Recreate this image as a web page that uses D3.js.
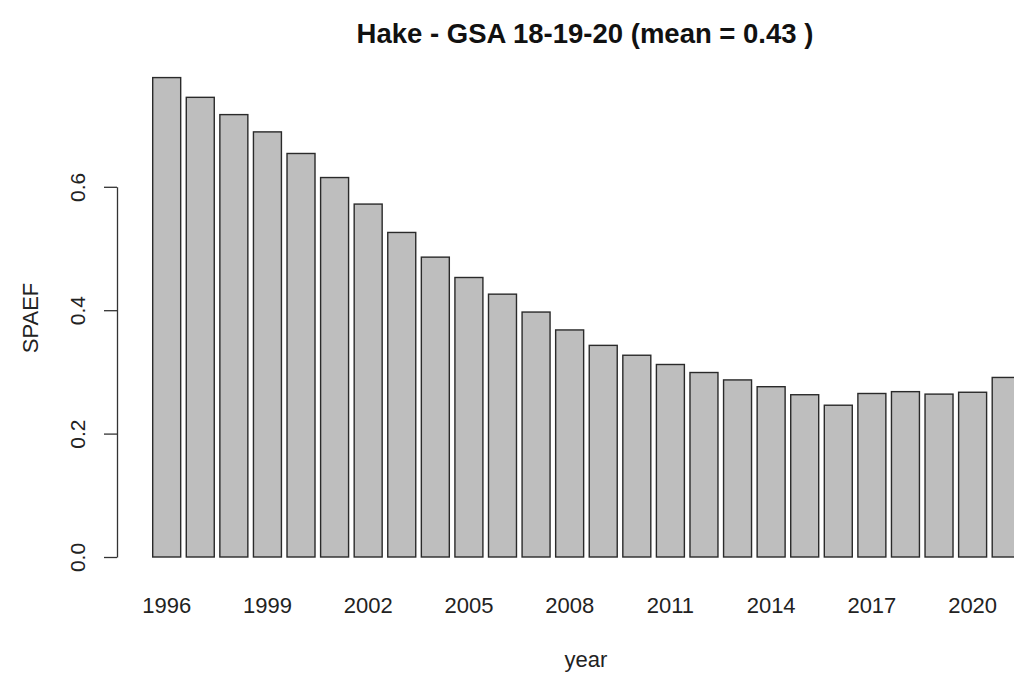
<!DOCTYPE html>
<html>
<head>
<meta charset="utf-8">
<script src="https://cdn.jsdelivr.net/npm/d3@7"></script>
<style>
  html, body { margin: 0; padding: 0; background: #fff; }
  svg { display: block; font-family: "Liberation Sans", Arial, sans-serif; }
</style>
</head>
<body>
<svg id="chart" width="1014" height="675"></svg>
<script>
const years = ["1996","1997","1998","1999","2000","2001","2002","2003","2004","2005","2006","2007","2008","2009","2010","2011","2012","2013","2014","2015","2016","2017","2018","2019","2020","2021"];
const spaef = [0.777,0.745,0.717,0.689,0.654,0.615,0.572,0.526,0.486,0.453,0.426,0.397,0.368,0.343,0.327,0.312,0.299,0.287,0.276,0.263,0.246,0.265,0.268,0.264,0.267,0.291];
const xTickLabels = ["1996","1999","2002","2005","2008","2011","2014","2017","2020"];
const yTicks = [0, 0.2, 0.4, 0.6];
const titleText = "Hake - GSA 18-19-20 (mean = 0.43 )";
const xLabel = "year";
const yLabel = "SPAEF";

const svg = d3.select("#chart");

// R-style barplot geometry: bar width 1, space 0.2
const x = d3.scaleBand()
  .domain(years)
  .range([152.7, 152.7 + 33.58 * (years.length - 1/6)])
  .paddingInner(1/6)
  .paddingOuter(0);

const y = d3.scaleLinear().domain([0, 0.6]).range([557, 186.8]);

// bars
svg.append("g").selectAll("rect")
  .data(years.map((yr, i) => ({yr, v: spaef[i]})))
  .join("rect")
  .attr("x", d => x(d.yr))
  .attr("y", d => y(d.v))
  .attr("width", x.bandwidth())
  .attr("height", d => y(0) - y(d.v))
  .attr("fill", "#bebebe")
  .attr("stroke", "#2a2a2a")
  .attr("stroke-width", 1.4);

// y axis
const yAxis = d3.axisLeft(y).tickValues(yTicks).tickFormat(d3.format(".1f")).tickSize(13).tickSizeOuter(0);
const gy = svg.append("g").attr("transform", "translate(117,0)").call(yAxis);
gy.select(".domain").attr("stroke", "#333").attr("stroke-width", 1.3);
gy.selectAll(".tick line").attr("stroke", "#333").attr("stroke-width", 1.3);
gy.selectAll(".tick text")
  .attr("font-size", 21)
  .attr("fill", "#222")
  .attr("x", null).attr("dy", null)
  .attr("text-anchor", "middle")
  .attr("transform", "translate(-32,0) rotate(-90)");

// x axis labels (no axis line, as in R barplot)
const xAxis = d3.axisBottom(x).tickValues(xTickLabels).tickSize(0);
const gx = svg.append("g").attr("transform", "translate(0,613)").call(xAxis);
gx.select(".domain").remove();
gx.selectAll(".tick text").attr("font-size", 22).attr("fill", "#222").attr("y", 0).attr("dy", 0);

// title
svg.append("text")
  .attr("x", 585).attr("y", 43)
  .attr("text-anchor", "middle")
  .attr("font-size", 27.5)
  .attr("font-weight", "bold")
  .attr("fill", "#111")
  .text(titleText);

// axis titles
svg.append("text")
  .attr("x", 586).attr("y", 667)
  .attr("text-anchor", "middle")
  .attr("font-size", 22)
  .attr("fill", "#222")
  .text(xLabel);

svg.append("text")
  .attr("transform", "translate(38,318) rotate(-90)")
  .attr("text-anchor", "middle")
  .attr("font-size", 22)
  .attr("fill", "#222")
  .text(yLabel);
</script>
</body>
</html>
